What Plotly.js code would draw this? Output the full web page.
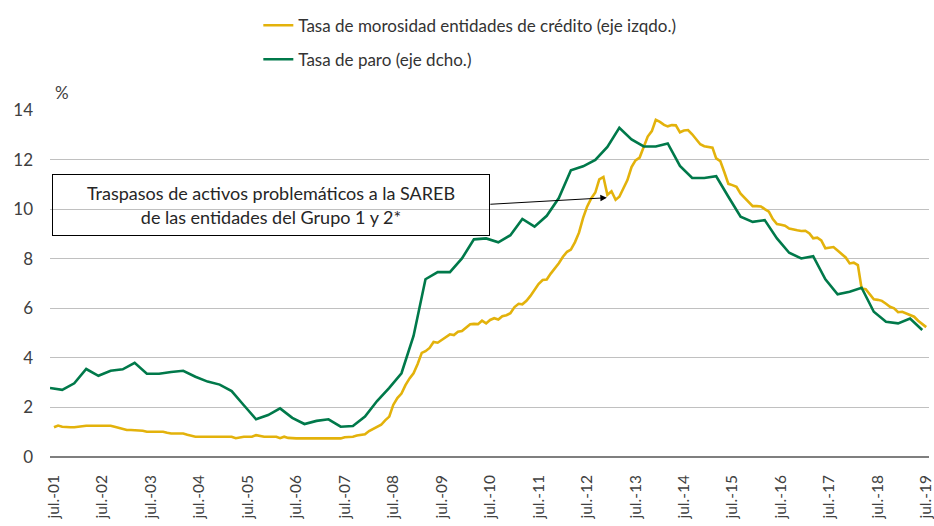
<!DOCTYPE html>
<html>
<head>
<meta charset="utf-8">
<script src="https://cdn.plot.ly/plotly-3.0.1.min.js"></script>
<style>html,body{margin:0;padding:0;background:#fff;}#chart{width:934px;height:526px;}</style>
</head>
<body>
<div id="chart"></div>
<script>
// Tasa de morosidad entidades de crédito (%), monthly from jul-2001 to jul-2019 (left axis)
const morosidadStart = [2001, 7];
const morosidad = [
  1.20,1.27,1.22,1.20,1.20,1.20,1.22,1.26,1.26,1.26,1.26,1.26,
  1.26,1.26,1.26,1.22,1.18,1.12,1.09,1.09,1.09,1.09,1.06,1.02,
  1.02,1.02,1.02,1.02,0.98,0.95,0.95,0.95,0.95,0.90,0.86,0.82,
  0.82,0.82,0.82,0.82,0.82,0.82,0.82,0.82,0.82,0.76,0.80,0.82,
  0.82,0.82,0.88,0.84,0.82,0.82,0.82,0.82,0.76,0.82,0.77,0.75,
  0.75,0.75,0.75,0.75,0.73,0.72,0.73,0.75,0.75,0.75,0.75,0.75,
  0.80,0.82,0.82,0.87,0.90,0.92,1.05,1.13,1.20,1.30,1.48,1.63,
  2.10,2.38,2.56,2.90,3.17,3.38,3.75,4.20,4.27,4.40,4.64,4.61,
  4.72,4.84,4.95,4.92,5.05,5.08,5.22,5.36,5.37,5.36,5.50,5.39,
  5.53,5.60,5.55,5.68,5.72,5.80,6.05,6.18,6.16,6.30,6.50,6.73,
  6.98,7.14,7.16,7.40,7.60,7.82,8.08,8.28,8.37,8.67,9.05,9.65,
  10.10,10.43,10.67,11.20,11.30,10.58,10.72,10.38,10.50,10.85,11.17,11.70,
  11.97,12.08,12.55,12.93,13.15,13.60,13.52,13.40,13.34,13.39,13.38,13.10,
  13.17,13.19,13.02,12.82,12.62,12.54,12.51,12.48,12.05,11.94,11.50,11.02,
  10.97,10.90,10.62,10.45,10.30,10.12,10.12,10.11,10.00,9.90,9.60,9.40,
  9.37,9.33,9.22,9.20,9.15,9.12,9.13,9.02,8.82,8.85,8.74,8.42,
  8.45,8.47,8.33,8.20,8.05,7.81,7.84,7.74,6.80,6.77,6.55,6.36,
  6.34,6.30,6.18,6.06,6.00,5.84,5.86,5.78,5.73,5.66,5.50,5.35,
  5.24
];

// Tasa de paro (%), quarterly from jun-2001 to jun-2019 (right axis, not drawn: 6-28)
const paroStart = [2001, 6];
const paro = [
  10.38,10.26,10.67,11.58,
  11.15,11.47,11.56,11.97,
  11.28,11.28,11.39,11.47,
  11.09,10.78,10.59,10.18,
  9.28,8.39,8.66,9.08,
  8.48,8.09,8.29,8.39,
  7.92,7.96,8.56,9.55,
  10.38,11.31,13.67,17.27,
  17.72,17.72,18.59,19.80,
  19.86,19.61,20.06,21.09,
  20.60,21.29,22.42,24.18,
  24.43,24.83,25.66,26.87,
  26.13,25.69,25.69,25.88,
  24.46,23.69,23.69,23.80,
  22.50,21.23,20.91,21.02,
  19.86,18.95,18.59,18.73,
  17.27,16.32,16.48,16.73,
  15.21,14.58,14.47,14.78,
  14.05
];

const tickYears = [2001,2002,2003,2004,2005,2006,2007,2008,2009,2010,2011,2012,2013,2014,2015,2016,2017,2018,2019];
const tickLabels = tickYears.map(y => 'jul.-' + String(y % 100).padStart(2, '0'));

const seriesNames = ['Tasa de morosidad entidades de crédito (eje izqdo.)', 'Tasa de paro (eje dcho.)'];
const annotationText = 'Traspasos de activos problemáticos a la SAREB<br>de las entidades del Grupo 1 y 2*';

function monthDates(start, n, step) {
  const out = [];
  for (let i = 0; i < n; i++) {
    const t = (start[0] * 12 + (start[1] - 1)) + i * step;
    const y = Math.floor(t / 12), m = t % 12 + 1;
    out.push(y + '-' + String(m).padStart(2, '0') + '-01');
  }
  return out;
}

const xMor = monthDates(morosidadStart, morosidad.length, 1);
const xParo = monthDates(paroStart, paro.length, 3);

const YELLOW = '#E3B20B';
const GREEN = '#00794A';

const traces = [
  {x: xMor, y: morosidad, type: 'scatter', mode: 'lines', name: seriesNames[0],
   legendgroup: 'a', line: {color: YELLOW, width: 2.6}, yaxis: 'y'},
  {x: xParo, y: paro, type: 'scatter', mode: 'lines', name: seriesNames[1],
   legendgroup: 'b', line: {color: GREEN, width: 2.6}, yaxis: 'y2'}
];

const layout = {
  width: 934, height: 526,
  margin: {l: 50, r: 5, t: 110, b: 69},
  paper_bgcolor: '#fff', plot_bgcolor: '#fff',
  font: {family: 'Lato, "Open Sans", sans-serif', color: '#3a3a3a', size: 16},
  showlegend: true,
  legend: {x: 0.237, y: 1.295, xanchor: 'left', yanchor: 'top', orientation: 'v',
           traceorder: 'grouped', tracegroupgap: 9, bgcolor: 'rgba(0,0,0,0)',
           font: {size: 17, color: '#333'}},
  xaxis: {
    type: 'date', range: ['2001-06-01', '2019-07-22'],
    tickmode: 'array', tickvals: tickYears.map(y => y + '-07-01'), ticktext: tickLabels,
    tickangle: -90, showgrid: false, zeroline: false, showline: false, ticks: '',
    ticklabeloverflow: 'allow',
    tickfont: {size: 15.5, color: '#404040'}, ticklabelstandoff: 14, fixedrange: true
  },
  yaxis: {
    range: [0, 14], tick0: 0, dtick: 2, showgrid: true, gridcolor: '#c0c0c0', gridwidth: 1,
    zeroline: true, zerolinecolor: '#7f7f7f', zerolinewidth: 2, showline: false, ticks: '',
    tickfont: {size: 17, color: '#404040'}, ticklabelstandoff: 16, fixedrange: true
  },
  yaxis2: {overlaying: 'y', side: 'right', range: [6, 28], visible: false, showgrid: false, zeroline: false},
  annotations: [
    {xref: 'paper', yref: 'paper', x: 0.003, y: 1.049, xanchor: 'left', yanchor: 'middle',
     text: '%', showarrow: false, font: {size: 17, color: '#404040'}},
    {xref: 'paper', yref: 'y', x: 0.002, y: 11.40, xanchor: 'left', yanchor: 'top',
     text: annotationText, showarrow: false, align: 'center',
     bordercolor: '#000', borderwidth: 1, borderpad: 4, bgcolor: 'rgba(0,0,0,0)',
     width: 428, height: 52, font: {size: 18, color: '#262626'}},
    {xref: 'x', yref: 'y', x: '2012-11-27', y: 10.46, text: '', showarrow: true,
     ax: -118, ay: 6.6, arrowhead: 2, arrowsize: 1.3, arrowwidth: 1, arrowcolor: '#000', standoff: 0}
  ]
};

Plotly.newPlot('chart', traces, layout, {displayModeBar: false, staticPlot: true});
</script>
</body>
</html>
